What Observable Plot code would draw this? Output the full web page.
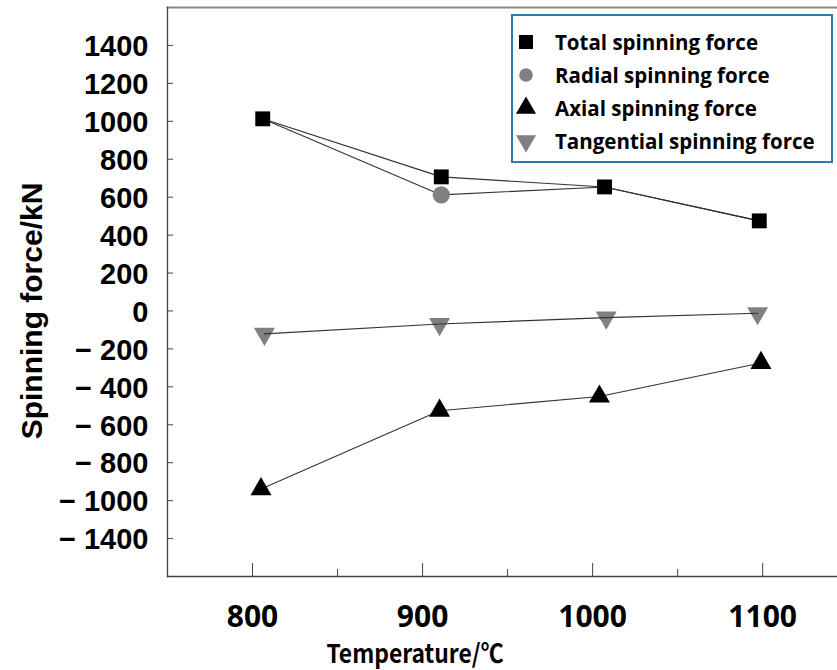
<!DOCTYPE html>
<html>
<head>
<meta charset="utf-8">
<script src="https://cdn.jsdelivr.net/npm/d3@7"></script>
<script src="https://cdn.jsdelivr.net/npm/@observablehq/plot@0.6"></script>
<style>
  body { margin: 0; background: #fff; }
  #wrap { position: relative; width: 837px; height: 670px; overflow: hidden; }
  #wrap svg.plot text { fill: #000; }
  g[aria-label="y-axis tick label"] text { font: bold 29px "Liberation Sans", Arial, sans-serif; }
  g[aria-label="x-axis tick label"] text { font: bold 30px "Open Sans", "Noto Sans", sans-serif; }
  .title { position: absolute; color: #000; white-space: nowrap; }
  #xtitle { left: 415px; top: 639px; transform: translateX(-50%) scaleX(0.88); font: bold 26px "Noto Sans CJK SC", "Open Sans", sans-serif; line-height: 1; }
  #ytitle { left: 32px; top: 311px; transform: translate(-50%, -50%) rotate(-90deg); font: bold 30px "Liberation Sans", Arial, sans-serif; }
  #legend { position: absolute; left: 511px; top: 14px; width: 322px; height: 149px; box-sizing: border-box;
            border: 2px solid #2a7ab0; background: #fff; padding-top: 9px; }
  #legend .row { display: flex; align-items: center; height: 33px; }
  #legend .row svg { width: 26px; height: 26px; flex: none; }
  #legend .row span { margin-left: 16px; font: bold 20.5px "Open Sans", "Noto Sans", sans-serif; color: #000; white-space: nowrap; }
</style>
</head>
<body>
<div id="wrap"></div>
<script>
// ---- data ----
const seriesNames = ["Total spinning force", "Radial spinning force", "Axial spinning force", "Tangential spinning force"];
const seriesColors = ["#000000", "#808080", "#000000", "#808080"];

const totalTemp = [806, 911, 1007, 1098];
const totalForce = [1013, 707, 654, 475];

const radialTemp = [806, 911, 1007, 1098];
const radialForce = [1013, 612, 654, 475];

const axialTemp = [805, 910, 1004, 1099];
const axialForce = [-939, -526, -451, -274];

const tangTemp = [807, 910, 1008, 1097];
const tangForce = [-121, -69, -35, -12];

const xTicks = [800, 900, 1000, 1100];
const xTickLabels = ["800", "900", "1000", "1100"];
const xMinorTicks = [850, 950, 1050];

const yTicks = [1400, 1200, 1000, 800, 600, 400, 200, 0, -200, -400, -600, -800, -1000, -1200];
const yTickLabels = ["1400", "1200", "1000", "800", "600", "400", "200", "0",
  "\u2212 200", "\u2212 400", "\u2212 600", "\u2212 800", "\u2212 1000", "\u2212 1400"];

const xTitle = "Temperature/\u2103";
const yTitle = "Spinning force/kN";

// ---- build tables ----
const mk = (xs, ys, s) => xs.map((x, i) => ({x, y: ys[i], s}));
const total = mk(totalTemp, totalForce, seriesNames[0]);
const radial = mk(radialTemp, radialForce, seriesNames[1]);
const axial = mk(axialTemp, axialForce, seriesNames[2]);
const tang = mk(tangTemp, tangForce, seriesNames[3]);
// radial markers hidden where they coincide with total markers
const radialMarkers = radial.filter((d, i) => d.y !== totalForce[i]);

const xLabelMap = new Map(xTicks.map((t, i) => [t, xTickLabels[i]]));
const yLabelMap = new Map(yTicks.map((t, i) => [t, yTickLabels[i]]));

const downTriangle = {
  draw(context, size) {
    const sqrt3 = Math.sqrt(3);
    const y = Math.sqrt(size / (sqrt3 * 3));
    context.moveTo(0, 2 * y);
    context.lineTo(-sqrt3 * y, -y);
    context.lineTo(sqrt3 * y, -y);
    context.closePath();
  }
};

const lineStyle = {x: "x", y: "y", stroke: "#333", strokeWidth: 1.1};

const chart = Plot.plot({
  width: 837,
  height: 670,
  marginLeft: 167,
  marginRight: 0,
  marginTop: 7,
  marginBottom: 94,
  x: {domain: [750, 1144]},
  y: {domain: [-1400, 1600]},
  style: {background: "transparent", overflow: "visible"},
  marks: [
    Plot.frame({anchor: "top", stroke: "#888", strokeWidth: 2}),
    Plot.frame({anchor: "left", stroke: "#444", strokeWidth: 1.3}),
    Plot.frame({anchor: "bottom", stroke: "#444", strokeWidth: 1.3}),
    Plot.axisX({ticks: xMinorTicks, tickSize: 7, dy: -7, tickFormat: () => "", label: null, stroke: "#444"}),
    Plot.axisX({ticks: xTicks, tickSize: 13, dy: -13, tickFormat: () => "", label: null, stroke: "#444"}),
    Plot.axisX({ticks: xTicks, tickSize: 0, tickPadding: 28, dy: 1, tickFormat: d => xLabelMap.get(d), label: null}),
    Plot.axisY({ticks: yTicks, tickSize: 6, dx: 6, tickFormat: () => "", label: null, stroke: "#444"}),
    Plot.axisY({ticks: yTicks, tickSize: 0, tickPadding: 19, dy: 1.5, tickFormat: d => yLabelMap.get(d), label: null}),
    Plot.dot(tang, {x: "x", y: "y", symbol: downTriangle, r: 7.8, fill: seriesColors[3], stroke: null}),
    Plot.line(total, lineStyle),
    Plot.line(radial, lineStyle),
    Plot.line(axial, lineStyle),
    Plot.line(tang, lineStyle),
    Plot.dot(radialMarkers, {x: "x", y: "y", symbol: "circle", r: 8.6, fill: seriesColors[1], stroke: null}),
    Plot.dot(total, {x: "x", y: "y", symbol: "square", r: 8.4, fill: seriesColors[0], stroke: null}),
    Plot.dot(axial, {x: "x", y: "y", symbol: "triangle", r: 7.8, fill: seriesColors[2], stroke: null})
  ]
});
chart.classList.add("plot");
const wrap = document.getElementById("wrap");
wrap.appendChild(chart);

// titles
const xt = document.createElement("div");
xt.className = "title"; xt.id = "xtitle"; xt.textContent = xTitle;
wrap.appendChild(xt);
const yt = document.createElement("div");
yt.className = "title"; yt.id = "ytitle"; yt.textContent = yTitle;
wrap.appendChild(yt);

// legend
const legendSymbols = [d3.symbolSquare, d3.symbolCircle, d3.symbolTriangle, downTriangle];
const legendSizes = [196, 145, 175, 175];
const legend = d3.select(wrap).append("div").attr("id", "legend");
seriesNames.forEach((name, i) => {
  const row = legend.append("div").attr("class", "row");
  row.append("svg").attr("viewBox", "-13 -13 26 26")
    .append("path")
    .attr("d", d3.symbol(legendSymbols[i], legendSizes[i])())
    .attr("fill", seriesColors[i]);
  row.append("span").text(name);
});
</script>
</body>
</html>
